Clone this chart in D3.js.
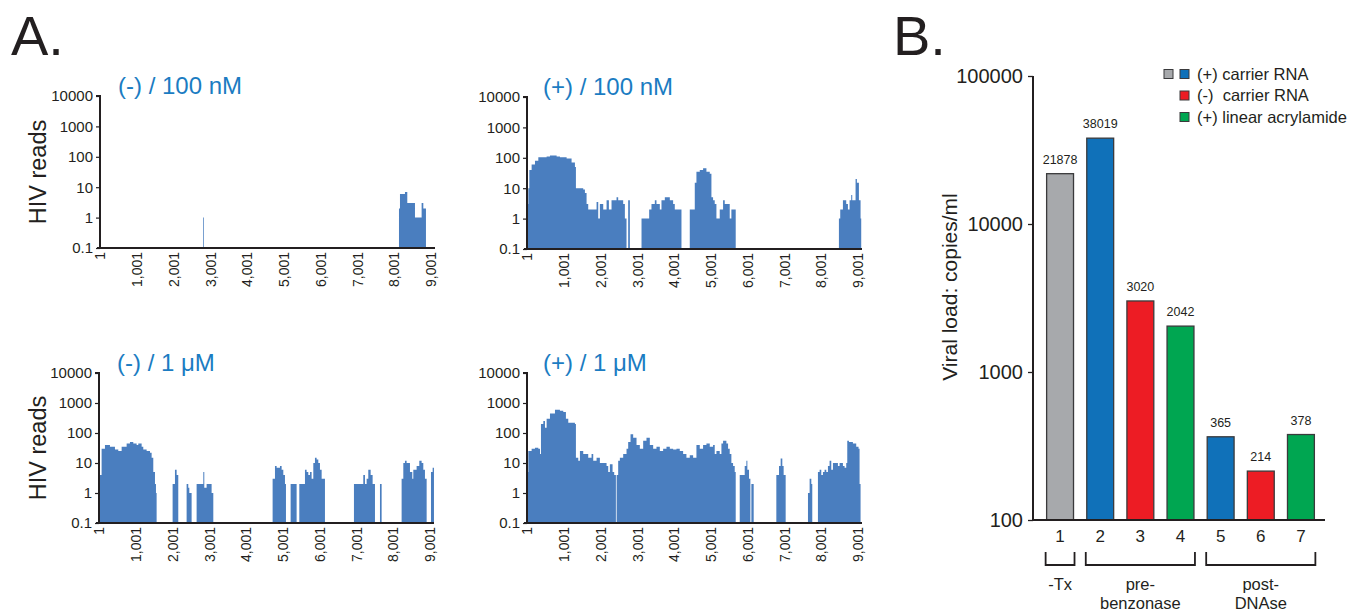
<!DOCTYPE html>
<html>
<head>
<meta charset="utf-8">
<script src="https://cdn.jsdelivr.net/npm/d3@7"></script>
<style>
  body { margin: 0; background: #fff; }
  svg { font-family: "Liberation Sans", Arial, Helvetica, sans-serif; }
</style>
</head>
<body>
<div id="chart"></div>
<script>
// ---- panel A: read coverage along the HIV genome, [position, reads] (step after)
const covNeg100nM = [[1,0],[2805,1],[2825,0],[8136,2],[8163,6],[8299,7],[8362,3],[8571,1],[8752,3],[8798,2],[8870,0]];

const covPos100nM = [[1,3],[37,10],[64,40],[127,60],[218,80],[309,105],[535,110],[626,120],[807,110],[897,105],
  [1079,95],[1214,70],[1305,50],[1332,10],[1531,9],[1577,7],[1622,3],[1667,2],[1894,3.5],[1939,1],[1984,3],
  [2075,2],[2166,4],[2229,2],[2301,4],[2437,5],[2482,4],[2618,3],[2664,1],[2709,0],[2754,4],[2800,0],
  [3117,1],[3325,2],[3388,3],[3479,4],[3524,3],[3615,2],[3660,4],[3751,5],[3887,4],[3977,3],[4022,2],[4204,0],
  [4430,2],[4566,15],[4611,35],[4702,40],[4792,45],[4883,35],[4974,30],[5019,5],[5064,4],[5109,3],[5155,1],
  [5245,2],[5336,4],[5381,3],[5517,1],[5562,2],[5680,0],
  [8488,1],[8524,2],[8597,4],[8687,3],[8733,2],[8778,4],[8823,6],[8850,4],[8941,20],[8977,15],[9032,4],[9077,1],[9095,0]];

const covNeg1uM = [[1,0],[27,4],[72,30],[163,40],[299,35],[435,28],[526,25],[617,35],[753,45],[843,50],[934,45],
  [1025,40],[1070,45],[1161,35],[1206,28],[1297,25],[1388,22],[1433,15],[1478,5],[1524,2],[1551,1],[1569,0],
  [2004,2],[2068,6],[2113,4],[2158,0],[2385,2],[2430,1.5],[2458,1],[2521,0],
  [2657,2],[2839,5],[2866,1.5],[2929,2],[3065,1],[3111,0],
  [4725,3],[4789,8],[4834,7],[4925,8],[4970,6],[5016,4],[5061,2],[5088,0],
  [5215,2],[5378,0],[5451,2],[5605,6],[5650,5],[5696,4],[5741,5],[5786,3],[5832,10],[5877,15],[5922,13],
  [5968,10],[6013,6],[6059,3],[6149,0],
  [6938,2],[7192,4],[7238,2],[7283,3],[7328,6],[7392,4],[7446,2],[7510,0],[7646,2],[7691,0],
  [8235,3],[8281,10],[8326,12],[8371,10],[8462,5],[8525,3],[8553,6],[8643,8],[8716,12],[8779,10],[8825,6],
  [8870,3],[8916,0],[9034,5],[9079,7],[9115,0]];

const covPos1uM = [[1,5],[37,25],[127,30],[218,32],[309,30],[354,20],[381,200],[445,250],[490,150],[535,300],
  [626,450],[762,600],[897,550],[988,500],[1060,300],[1124,220],[1305,200],[1332,15],[1396,12],[1441,25],
  [1531,20],[1667,15],[1758,20],[1803,12],[1894,15],[1984,10],[2166,8],[2211,5],[2256,9],[2329,5],[2374,4],
  [2420,0],[2440,4],[2482,12],[2528,15],[2618,20],[2709,30],[2754,50],[2818,90],[2890,70],[2981,40],[3071,30],
  [3162,55],[3252,70],[3343,40],[3434,30],[3524,35],[3615,25],[3705,30],[3796,35],[3887,30],[3977,28],
  [4068,30],[4158,25],[4249,20],[4339,15],[4430,18],[4521,15],[4611,40],[4702,30],[4792,40],[4883,45],
  [4974,35],[5064,40],[5109,20],[5155,25],[5245,20],[5291,45],[5336,55],[5426,45],[5472,30],[5517,20],
  [5562,10],[5608,8],[5653,5],[5680,0],
  [5789,4],[5925,8],[5970,12],[5997,6],[6042,3],[6079,0],[6106,2],[6169,0],
  [6785,4],[6858,8],[6903,14],[6948,8],[6984,4],[7039,0],[7646,1],[7691,3],[7737,2],[7763,0],
  [7917,5],[7963,6],[8008,4],[8053,5],[8098,6],[8144,5],[8189,8],[8234,12],[8280,6],[8325,10],[8461,8],
  [8506,10],[8597,8],[8642,7],[8687,10],[8715,55],[8760,50],[8868,45],[8959,35],[9022,30],[9050,2],[9077,0]];

const panelTitles = ["(-) / 100 nM", "(+) / 100 nM", "(-) / 1 μM", "(+) / 1 μM"];
const readTicks = [0.1, 1, 10, 100, 1000, 10000];
const genomeTicks = [1, 1001, 2001, 3001, 4001, 5001, 6001, 7001, 8001, 9001];

// ---- panel B: viral load
const samples = ["1", "2", "3", "4", "5", "6", "7"];
const viralLoad = [21878, 38019, 3020, 2042, 365, 214, 378];
const sampleGroup = ["grey", "blue", "red", "green", "blue", "red", "green"];
const loadTicks = [100, 1000, 10000, 100000];
const bracketGroups = [
  {from: "1", to: "1", label: ["-Tx"]},
  {from: "2", to: "4", label: ["pre-", "benzonase"]},
  {from: "5", to: "7", label: ["post-", "DNAse"]}
];
const legendRows = [
  {keys: ["grey", "blue"], text: "(+) carrier RNA"},
  {keys: ["red"], text: "(-)  carrier RNA"},
  {keys: ["green"], text: "(+) linear acrylamide"}
];

const fillColor = {grey: "#a7a9ac", blue: "#1071b9", red: "#ed1c24", green: "#00a651"};
const ink = "#231f20";
const covBlue = "#4a7ebf";
const titleBlue = "#1b7cc2";

const W = 1352, H = 611;
const svg = d3.select("#chart").append("svg")
  .attr("width", W).attr("height", H);

// panel letters
svg.append("text").attr("x", 11).attr("y", 55).attr("font-size", 56).attr("fill", ink).text("A.");
svg.append("text").attr("x", 893).attr("y", 55).attr("font-size", 56).attr("fill", ink).text("B.");

// ---------------- panel A ----------------
const panels = [
  {data: covNeg100nM, left: 100, top: 96, bottom: 248, ylab: true},
  {data: covPos100nM, left: 527, top: 97, bottom: 249, ylab: false},
  {data: covNeg1uM, left: 99, top: 373, bottom: 523, ylab: true},
  {data: covPos1uM, left: 527, top: 373, bottom: 523, ylab: false}
];
const plotW = 335;

panels.forEach(function(p, i) {
  const g = svg.append("g");
  const x = d3.scaleLinear().domain([1, 9116]).range([p.left, p.left + plotW]);
  const y = d3.scaleLog().domain([0.1, 10000]).range([p.bottom, p.top]);

  const area = d3.area()
    .curve(d3.curveStepAfter)
    .x(d => x(d[0]))
    .y0(y(0.1))
    .y1(d => y(Math.max(d[1], 0.1)));

  g.append("path")
    .datum(p.data)
    .attr("d", area)
    .attr("fill", covBlue);

  // y axis
  const yAxis = g.append("g")
    .attr("transform", `translate(${p.left},0)`)
    .call(d3.axisLeft(y).tickValues(readTicks).tickFormat(d3.format("~g")).tickSize(4).tickPadding(3));
  yAxis.select(".domain").attr("stroke", ink).attr("stroke-width", 2).attr("d", `M-4,${p.top}H0V${p.bottom}`);
  yAxis.selectAll(".tick line").attr("stroke", ink).attr("stroke-width", 1.2);
  yAxis.selectAll("text").attr("font-size", 15).attr("fill", ink).attr("font-family", "Liberation Sans, Arial, sans-serif");

  // x axis
  const xAxis = g.append("g")
    .attr("transform", `translate(0,${p.bottom})`)
    .call(d3.axisBottom(x).tickValues(genomeTicks).tickFormat(d3.format(",")).tickSize(0));
  xAxis.select(".domain").attr("stroke", ink).attr("stroke-width", 2)
    .attr("d", `M${p.left - 3},0H${p.left + plotW}`);
  xAxis.selectAll("text")
    .attr("font-size", 14).attr("fill", ink)
    .attr("font-family", "Liberation Sans, Arial, sans-serif")
    .attr("transform", "rotate(-90)")
    .attr("text-anchor", "end")
    .attr("x", -4).attr("y", 0).attr("dy", "0.35em");

  // title
  g.append("text")
    .attr("x", p.left + (i % 2 ? 16 : 18))
    .attr("y", p.top - 2)
    .attr("font-size", 24)
    .attr("fill", titleBlue)
    .text(panelTitles[i]);

  if (p.ylab) {
    g.append("text")
      .attr("transform", `translate(46,${(p.top + p.bottom) / 2}) rotate(-90)`)
      .attr("text-anchor", "middle")
      .attr("font-size", 23.5)
      .attr("fill", ink)
      .text("HIV reads");
  }
});

// ---------------- panel B ----------------
const bx = d3.scaleBand().domain(samples).range([1040, 1321]).paddingInner(0.33).paddingOuter(0.165);
const by = d3.scaleLog().domain([100, 100000]).range([520, 76]);
const gb = svg.append("g");

gb.selectAll("rect.bar")
  .data(samples)
  .join("rect")
  .attr("class", "bar")
  .attr("x", d => bx(d))
  .attr("y", (d, i) => by(viralLoad[i]))
  .attr("width", bx.bandwidth())
  .attr("height", (d, i) => by(100) - by(viralLoad[i]))
  .attr("fill", (d, i) => fillColor[sampleGroup[i]])
  .attr("stroke", "#3a3a3c")
  .attr("stroke-width", 1.3);

gb.selectAll("text.val")
  .data(samples)
  .join("text")
  .attr("class", "val")
  .attr("x", d => bx(d) + bx.bandwidth() / 2)
  .attr("y", (d, i) => by(viralLoad[i]) - 10)
  .attr("text-anchor", "middle")
  .attr("font-size", 12.5)
  .attr("fill", ink)
  .text((d, i) => viralLoad[i]);

const byAxis = gb.append("g")
  .attr("transform", "translate(1033,0)")
  .call(d3.axisLeft(by).tickValues(loadTicks).tickFormat(d3.format("d")).tickSize(5).tickPadding(5));
byAxis.select(".domain").attr("stroke", ink).attr("stroke-width", 2).attr("d", "M0,76V520");
byAxis.selectAll(".tick line").attr("stroke", ink).attr("stroke-width", 1.3);
byAxis.selectAll("text").attr("font-size", 20).attr("fill", ink).attr("font-family", "Liberation Sans, Arial, sans-serif");

const bxAxis = gb.append("g")
  .attr("transform", "translate(0,520)")
  .call(d3.axisBottom(bx).tickSize(0).tickPadding(10));
bxAxis.select(".domain").attr("stroke", ink).attr("stroke-width", 2).attr("d", "M1032,0H1325");
bxAxis.selectAll("text").attr("font-size", 17).attr("fill", ink).attr("font-family", "Liberation Sans, Arial, sans-serif");

gb.append("text")
  .attr("transform", "translate(957,287) rotate(-90)")
  .attr("text-anchor", "middle")
  .attr("font-size", 21)
  .attr("fill", ink)
  .text("Viral load: copies/ml");

// group brackets
bracketGroups.forEach(function(b) {
  const x0 = bx(b.from) - 1, x1 = bx(b.to) + bx.bandwidth() + 1;
  gb.append("path")
    .attr("d", `M${x0},552V565H${x1}V552`)
    .attr("fill", "none").attr("stroke", ink).attr("stroke-width", 1.8);
  const t = gb.append("text")
    .attr("x", (x0 + x1) / 2).attr("y", 590)
    .attr("text-anchor", "middle").attr("font-size", 16.5).attr("fill", ink);
  b.label.forEach(function(line, k) {
    t.append("tspan").attr("x", (x0 + x1) / 2).attr("dy", k ? 19 : 0).text(line);
  });
});

// legend
legendRows.forEach(function(r, i) {
  const yy = 74 + i * 21.5;
  r.keys.forEach(function(k, j) {
    const off = r.keys.length === 2 ? j * 16 : 16;
    gb.append("rect")
      .attr("x", 1164 + off).attr("y", yy - 4.5)
      .attr("width", 9).attr("height", 9)
      .attr("fill", fillColor[k]).attr("stroke", "#3a3a3c").attr("stroke-width", 1);
  });
  gb.append("text")
    .attr("x", 1197).attr("y", yy + 5.5)
    .attr("font-size", 16.5).attr("fill", ink)
    .style("white-space", "pre")
    .text(r.text);
});
</script>
</body>
</html>
